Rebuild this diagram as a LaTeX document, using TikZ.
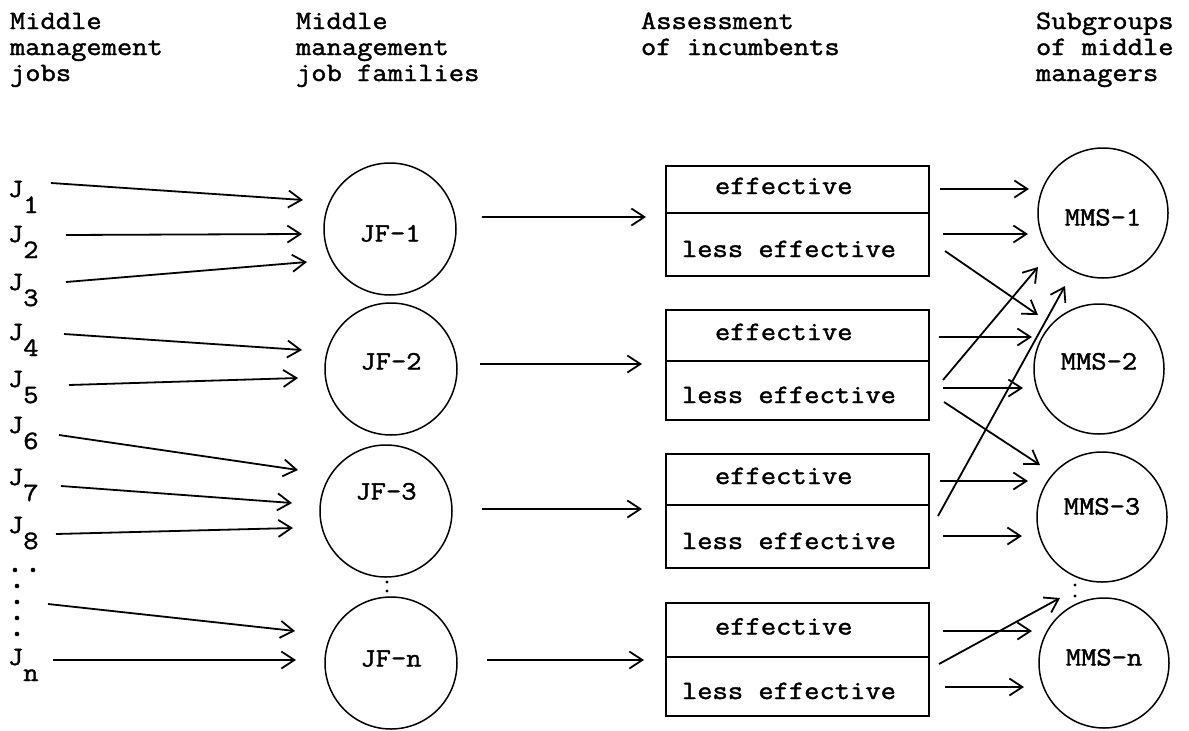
\documentclass[tikz,border=0pt]{standalone}
\usepackage{fontspec}
\setmonofont{Latin Modern Mono}[FakeStretch=1.12, FakeBold=1.5]
\usetikzlibrary{arrows.meta}
\begin{document}
\begin{tikzpicture}[x=1pt,y=1pt,
  every node/.style={font=\ttfamily\fontsize{26.5}{26}\selectfont, inner sep=0pt, outer sep=0pt},
  arr/.style={-{Straight Barb[length=13pt,width=17pt]}, line width=1.8pt},
  head/.style={anchor=base west, align=left},
  jlab/.style={anchor=base west},
  fam/.style={draw, circle, line width=1.5pt, minimum size=132pt},
  sub/.style={draw, circle, line width=1.5pt, minimum size=130pt},
  cell/.style={draw, line width=1.7pt, anchor=north west, minimum width=263pt},
  eff/.style={cell, text height=16pt, text depth=7pt},
  less/.style={cell, text height=30pt, text depth=5pt},
  dot/.style={fill=black}
]
\fill[white] (0,0) rectangle (1189,-731);
\useasboundingbox (0,0) rectangle (1189,-731);

% column headings (anchored at the baseline of their last line)
\node[head] (h1) at (10,-81)   {Middle\\management\\jobs};
\node[head] (h2) at (296,-81)  {Middle\\management\\job families};
\node[head] (h3) at (641,-55)  {Assessment\\of incumbents};
\node[head] (h4) at (1036,-81) {Subgroups\\of middle\\managers};

% jobs
\newcommand{\jsub}[1]{J\raisebox{-16pt}{#1}}
\node[jlab] (J1) at (8,-197) {\jsub{1}};
\node[jlab] (J2) at (8,-242) {\jsub{2}};
\node[jlab] (J3) at (8,-290) {\jsub{3}};
\node[jlab] (J4) at (8,-340) {\jsub{4}};
\node[jlab] (J5) at (8,-387) {\jsub{5}};
\node[jlab] (J6) at (8,-433) {\jsub{6}};
\node[jlab] (J7) at (8,-485) {\jsub{7}};
\node[jlab] (J8) at (8,-533) {\jsub{8}};
\node[jlab] (Jn) at (8,-665) {\jsub{n}};
% vertical ellipsis below J8
\foreach \p in {(15,-570),(33,-570),(17,-586),(17,-602),(17,-618),(17,-634)}
  \fill[dot] \p circle (2.3);
\coordinate (Jdots) at (17,-604);

% job families
\node[fam, text height=25pt, text depth=0pt] (JF1) at (390,-229) {JF-1};
\node[fam, text height=1pt,  text depth=0pt] (JF2) at (391,-369) {JF-2};
\node[fam, text height=0pt,  text depth=23pt] (JF3) at (386,-511) {JF-3};
\node[fam, text height=7pt,  text depth=0pt] (JFn) at (391,-663) {JF-n};
\fill[dot] (387,-582) circle (1.7) (387,-591) circle (1.7);

% assessment boxes
\node[eff,  minimum height=47pt] (B1e) at (666,-166) {\makebox[263pt][l]{\hspace{49pt}effective}};
\node[less, minimum height=63pt] (B1l) at (666,-213) {\makebox[263pt][l]{\hspace{16pt}less effective}};
\node[eff,  minimum height=51pt] (B2e) at (666,-310) {\makebox[263pt][l]{\hspace{49pt}effective}};
\node[less, minimum height=59pt] (B2l) at (666,-361) {\makebox[263pt][l]{\hspace{16pt}less effective}};
\node[eff,  minimum height=51pt] (B3e) at (666,-454) {\makebox[263pt][l]{\hspace{49pt}effective}};
\node[less, minimum height=63pt] (B3l) at (666,-505) {\makebox[263pt][l]{\hspace{16pt}less effective}};
\node[eff,  minimum height=54pt] (B4e) at (666,-603) {\makebox[263pt][l]{\hspace{49pt}effective}};
\node[less, minimum height=59pt] (B4l) at (666,-657) {\makebox[263pt][l]{\hspace{16pt}less effective}};

% subgroups of middle managers
\node[sub, text height=25pt, text depth=0pt] (M1) at (1103,-213) {MMS-1};
\node[sub, text height=1pt,  text depth=0pt] (M2) at (1099,-369) {MMS-2};
\node[sub, text height=0pt,  text depth=5pt] (M3) at (1102,-517) {MMS-3};
\node[sub, text height=5pt,  text depth=0pt] (Mn) at (1104,-663) {MMS-n};
\fill[dot] (1075,-585) circle (1.7) (1075,-596) circle (1.7);
\coordinate (Mdots) at (1075,-590);

% jobs -> job families
\draw[arr] ([shift={(43,14)}]J1.base west) -- ([shift={(-87,29)}]JF1.center);
\draw[arr] ([shift={(58,7)}]J2.base west)  -- ([shift={(-88,-5)}]JF1.center);
\draw[arr] ([shift={(58,8)}]J3.base west)  -- ([shift={(-83,-33)}]JF1.center);
\draw[arr] ([shift={(56,6)}]J4.base west)  -- ([shift={(-89,19)}]JF2.center);
\draw[arr] ([shift={(61,2)}]J5.base west)  -- ([shift={(-93,-9)}]JF2.center);
\draw[arr] ([shift={(51,-2)}]J6.base west) -- ([shift={(-88,41)}]JF3.center);
\draw[arr] ([shift={(53,-1)}]J7.base west) -- ([shift={(-94,8)}]JF3.center);
\draw[arr] ([shift={(48,-1)}]J8.base west) -- ([shift={(-93,-17)}]JF3.center);
\draw[arr] ([shift={(31,0)}]Jdots)         -- ([shift={(-96,32)}]JFn.center);
\draw[arr] ([shift={(45,5)}]Jn.base west)  -- ([shift={(-95,3)}]JFn.center);

% job families -> assessment
\draw[arr] ([shift={(92,12)}]JF1.center) -- ([shift={(-20,-4)}]B1e.south west);
\draw[arr] ([shift={(89,5)}]JF2.center)  -- ([shift={(-24,-3)}]B2e.south west);
\draw[arr] ([shift={(96,2)}]JF3.center)  -- ([shift={(-24,-4)}]B3e.south west);
\draw[arr] ([shift={(96,3)}]JFn.center)  -- ([shift={(-22,-3)}]B4e.south west);

% assessment -> subgroups
\draw[arr] ([shift={(11,0.5)}]B1e.east)  -- ([shift={(-74,24)}]M1.center);
\draw[arr] ([shift={(14,10.5)}]B1l.east) -- ([shift={(-75,-21)}]M1.center);
\draw[arr] ([shift={(16,-6.5)}]B1l.east) -- ([shift={(-61,54)}]M2.center);
\draw[arr] ([shift={(10,-1.5)}]B2e.east) -- ([shift={(-67,32)}]M2.center);
\draw[arr] ([shift={(14,10.5)}]B2l.east) -- ([shift={(-65,-54)}]M1.center);
\draw[arr] ([shift={(14,2.5)}]B2l.east)  -- ([shift={(-76,-19)}]M2.center);
\draw[arr] ([shift={(15,-11.5)}]B2l.east) -- ([shift={(-62,52)}]M3.center);
\draw[arr] ([shift={(11,-1.5)}]B3e.east) -- ([shift={(-74,36)}]M3.center);
\draw[arr] ([shift={(9,20.5)}]B3l.east)  -- ([shift={(-38,-73)}]M1.center);
\draw[arr] ([shift={(14,0.5)}]B3l.east)  -- ([shift={(-80,-19)}]M3.center);
\draw[arr] ([shift={(14,-1)}]B4e.east)   -- ([shift={(-72,32)}]Mn.center);
\draw[arr] ([shift={(10,22.5)}]B4l.east) -- ([shift={(-15,-8)}]Mdots);
\draw[arr] ([shift={(16,-0.5)}]B4l.east) -- ([shift={(-80,-24)}]Mn.center);
\end{tikzpicture}
\end{document}
